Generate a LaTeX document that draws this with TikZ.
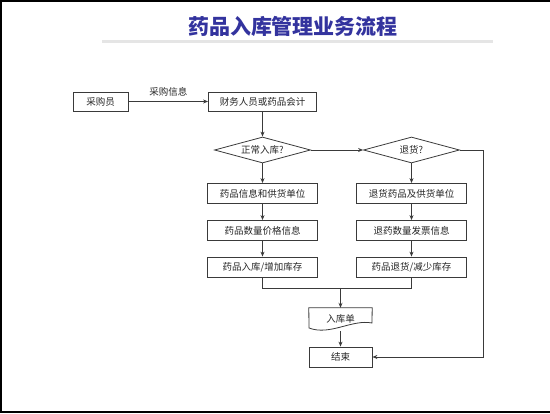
\documentclass[tikz,border=0pt]{standalone}
\usepackage{fontspec}
\newfontfamily\cjk{Noto Sans CJK SC}
\usetikzlibrary{arrows.meta,shapes.geometric}
\definecolor{linec}{HTML}{3A3A3A}
\definecolor{titlec}{HTML}{33339E}
\begin{document}
\begin{tikzpicture}[x=1pt,y=-1pt,
  txt/.style={font=\cjk\fontsize{9.5}{11}\selectfont, text=black!85},
  box/.style={txt, draw=linec, line width=0.8pt, rectangle, minimum height=19pt, inner sep=0pt},
  dec/.style={txt, draw=linec, line width=0.8pt, diamond, aspect=3.7, inner sep=0pt, minimum width=96pt, minimum height=26pt},
  conn/.style={draw=linec, line width=0.8pt},
  arr/.style={conn, -{Stealth[length=5pt,width=4pt]}}]
\useasboundingbox (0,0) rectangle (550,414);
% frame
\draw[line width=1.4pt] (0,1) -- (550,1);
\draw[line width=1.4pt] (1,1) -- (1,412) -- (550,412);
% title
\node[font=\cjk\bfseries\fontsize{21}{21}\selectfont, text=titlec] (title) at (293,26) {药品入库管理业务流程};
\draw[line width=3pt, black!10] (102,42) -- (493,42);
% nodes
\node[box, minimum width=55pt] (cg) at (100.5,101.5) {采购员};
\node[box, minimum width=108pt] (cw) at (262.5,101.5) {财务人员或药品会计};
\node[dec] (d1) at (262.5,150) {正常入库?};
\node[dec] (d2) at (411.5,150) {退货?};
\node[box, minimum width=110pt, minimum height=20pt] (l1) at (262.5,193.5) {药品信息和供货单位};
\node[box, minimum width=110pt, minimum height=20pt] (l2) at (262.5,230.5) {药品数量价格信息};
\node[box, minimum width=110pt, minimum height=20pt] (l3) at (262.5,267) {药品入库/增加库存};
\node[box, minimum width=110pt, minimum height=20pt] (r1) at (411.5,193.5) {退货药品及供货单位};
\node[box, minimum width=110pt, minimum height=20pt] (r2) at (411.5,230.5) {退药数量发票信息};
\node[box, minimum width=110pt, minimum height=20pt] (r3) at (411.5,267) {药品退货/减少库存};
\node[txt, minimum width=63pt, minimum height=22pt, inner sep=0pt] (doc) at (340.5,319) {入库单};
\draw[conn] (doc.north west) -- (doc.north east) -- (372,323)
  .. controls (352,319) and (330,336) .. (309,328) -- cycle;
\node[box, minimum width=63pt, minimum height=20pt] (end) at (340.5,357) {结束};
% connectors
\draw[arr] (cg) -- node[txt, above=1pt] (lab) {采购信息} (cw);
\draw[arr] (cw) -- (d1);
\draw[arr] (d1) -- (d2);
\draw[arr] (d1) -- (l1);
\draw[arr] (l1) -- (l2);
\draw[arr] (l2) -- (l3);
\draw[arr] (d2) -- (r1);
\draw[arr] (r1) -- (r2);
\draw[arr] (r2) -- (r3);
\coordinate (m) at (340.5,288);
\draw[conn] (l3.south) -- (l3.south |- m) -- (r3.south |- m) -- (r3.south);
\draw[arr] (m) -- (doc.north);
\draw[arr] (340.5,331.5) -- (end.north);
\coordinate (rt) at (483,150);
\draw[arr] (d2.east) -- (rt) |- (end.east);
\end{tikzpicture}
\end{document}
